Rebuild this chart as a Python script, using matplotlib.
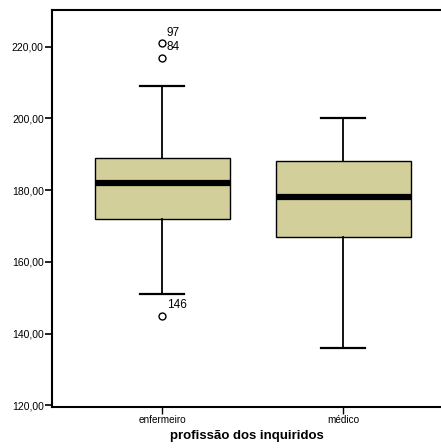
import matplotlib
matplotlib.use("Agg")
import matplotlib.pyplot as plt
from matplotlib.ticker import FuncFormatter

plt.rcParams['font.family'] = ['Liberation Sans', 'DejaVu Sans']

# box plot summary
groups = ['enfermeiro', 'médico']
whislo = [151, 136]
q1 = [172, 167]
med = [182, 178]
q3 = [189, 188]
whishi = [209, 200]
fliers = [[221, 217, 145], []]
flier_ids = [['97', '84', '146'], []]

stats = []
for i in range(len(groups)):
    stats.append({'label': groups[i], 'whislo': whislo[i], 'q1': q1[i], 'med': med[i],
                  'q3': q3[i], 'whishi': whishi[i], 'fliers': fliers[i]})

fig = plt.figure(figsize=(4.41, 4.48), dpi=100)
ax = fig.add_axes([0.118, 0.0915, 0.882, 0.8865])

ax.bxp(stats, positions=[1, 2], widths=0.745, capwidths=0.243, patch_artist=True,
       boxprops=dict(facecolor='#d3cf9b', edgecolor='black', linewidth=1.0),
       medianprops=dict(color='black', linewidth=4.5, solid_capstyle='butt'),
       whiskerprops=dict(color='black', linewidth=1.3),
       capprops=dict(color='black', linewidth=1.6),
       flierprops=dict(marker='o', markerfacecolor='white', markeredgecolor='black',
                       markersize=5, markeredgewidth=1.0))

# outlier case numbers
for i in range(len(groups)):
    for v, lab in zip(fliers[i], flier_ids[i]):
        ax.annotate(lab, (i + 1, v), xytext=(3.5, 7.5), textcoords='offset points',
                    ha='left', va='center', fontsize=8.5)

ax.set_xlim(0.392, 2.54)
ax.set_ylim(119.5, 230.3)
ax.set_yticks([120, 140, 160, 180, 200, 220])
ax.yaxis.set_major_formatter(FuncFormatter(lambda v, p: f"{v:.2f}".replace('.', ',')))
ax.tick_params(axis='y', labelsize=7.5, length=5, width=1.2, direction='out', pad=1)
ax.tick_params(axis='x', labelsize=7.2, length=5, width=1.0, direction='out', pad=1)

for s in ['left', 'top', 'bottom']:
    ax.spines[s].set_linewidth(1.5)
ax.spines['right'].set_visible(False)

ax.set_xlabel('profissão dos inquiridos', fontsize=9.5, fontweight='bold', labelpad=3.5)

fig.savefig('out.png', dpi=100)
